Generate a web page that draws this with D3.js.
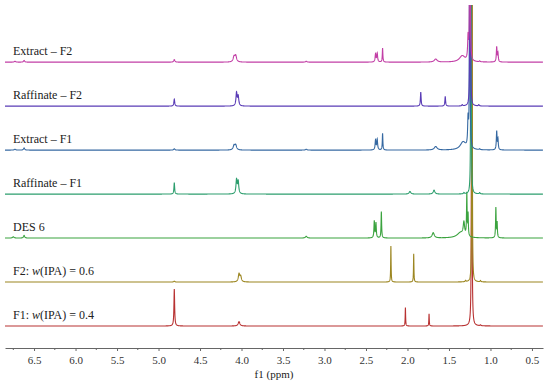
<!DOCTYPE html>
<html>
<head>
<meta charset="utf-8">
<script src="https://cdn.jsdelivr.net/npm/d3@7"></script>
<style>
  body { margin: 0; background: #fff; }
  .lbl { font-family: "Liberation Serif", "DejaVu Serif", serif; font-size: 12px; fill: #222; }
  .axis text { font-family: "Liberation Serif", "DejaVu Serif", serif; font-size: 11px; fill: #333; }
  .axis path, .axis line { stroke: #666; }
</style>
</head>
<body>
<div id="chart"></div>
<script>
// spectra, top to bottom
var names = ["Extract – F2", "Raffinate – F2", "Extract – F1", "Raffinate – F1", "DES 6", "F2: w(IPA) = 0.6", "F1: w(IPA) = 0.4"];
var colors = ["#c23fa6", "#5a3cb6", "#3669a2", "#2d9e6e", "#3ba33f", "#9c8621", "#b83232"];

// peaks: [ppm, relative intensity, half width (ppm)]  (stack spacing = 100)
var peaksExtractF2 = [[6.73, 2, 0.01], [6.62, 4, 0.008], [4.81, 6, 0.008], [4.09, 12, 0.012], [4.07, 14, 0.012],
  [3.22, 2, 0.01], [2.385, 18, 0.006], [2.365, 20, 0.006], [2.30, 32, 0.004], [1.66, 7, 0.02],
  [1.34, 14, 0.04], [1.27, 50, 0.006], [1.248, 3000, 0.0015], [1.13, 2, 0.006], [0.925, 34, 0.005], [0.91, 20, 0.005]];
var peaksRaffinateF2 = [[4.81, 16, 0.006], [4.06, 30, 0.008], [4.04, 22, 0.008], [1.84, 32, 0.005],
  [1.545, 22, 0.005], [1.34, 3, 0.006], [1.245, 3000, 0.0015], [1.14, 3, 0.006]];
var peaksExtractF1 = [[6.73, 2, 0.01], [6.62, 5, 0.008], [4.81, 3, 0.008], [4.09, 10, 0.012], [4.07, 11, 0.012],
  [3.22, 2, 0.01], [2.385, 22, 0.006], [2.365, 24, 0.006], [2.30, 38, 0.004], [1.66, 8, 0.02],
  [1.33, 18, 0.04], [1.27, 62, 0.006], [1.25, 3000, 0.0015], [1.13, 2, 0.006], [0.925, 42, 0.005], [0.91, 24, 0.005]];
var peaksRaffinateF1 = [[4.81, 26, 0.005], [4.06, 32, 0.008], [4.04, 28, 0.008], [1.97, 6, 0.012],
  [1.68, 9, 0.012], [1.32, 3, 0.006], [1.235, 3000, 0.0015], [1.13, 3, 0.006]];
var peaksDES6 = [[6.75, 3, 0.01], [6.62, 6, 0.008], [3.22, 4, 0.012], [2.40, 38, 0.005], [2.38, 34, 0.005],
  [2.315, 60, 0.004], [1.69, 12, 0.015], [1.36, 12, 0.05], [1.32, 30, 0.01], [1.285, 96, 0.004],
  [1.27, 50, 0.004], [0.935, 68, 0.004], [0.92, 34, 0.004]];
var peaksF2 = [[4.81, 2, 0.008], [4.03, 18, 0.01], [4.01, 12, 0.01], [2.20, 82, 0.003], [1.925, 64, 0.003],
  [1.30, 3, 0.006], [1.222, 3000, 0.0015], [1.12, 3, 0.006]];
var peaksF1 = [[4.81, 84, 0.005], [4.03, 10, 0.012], [2.025, 42, 0.003], [1.74, 28, 0.003],
  [1.226, 3000, 0.0018], [1.12, 2, 0.006]];

var peakSets = [peaksExtractF2, peaksRaffinateF2, peaksExtractF1, peaksRaffinateF1, peaksDES6, peaksF2, peaksF1];

var xTicks = [6.5, 6.0, 5.5, 5.0, 4.5, 4.0, 3.5, 3.0, 2.5, 2.0, 1.5, 1.0, 0.5];

var width = 550, height = 385;
var plotLeft = 5, plotRight = 543, plotTop = 5, plotBottom = 348;

var svg = d3.select("#chart").append("svg")
  .attr("width", width)
  .attr("height", height);

var x = d3.scaleLinear().domain([6.85, 0.367]).range([plotLeft, plotRight]);
var y = d3.scaleLinear().domain([-50, 730]).range([plotBottom, plotTop]);

svg.append("clipPath").attr("id", "plotclip")
  .append("rect")
  .attr("x", plotLeft).attr("y", plotTop)
  .attr("width", plotRight - plotLeft).attr("height", plotBottom - plotTop);

// sample grid across the axis
var grid = d3.range(6.85, 0.367, -0.001);

function spectrum(peaks, offset) {
  return grid.map(function(p) {
    var v = 0;
    peaks.forEach(function(pk) {
      var dx = (p - pk[0]) / pk[2];
      v += pk[1] / (1 + dx * dx);
    });
    return [p, offset + v];
  });
}

var line = d3.line()
  .x(function(d) { return x(d[0]); })
  .y(function(d) { return y(Math.min(d[1], 760)); });

var g = svg.append("g").attr("clip-path", "url(#plotclip)");

// draw bottom spectra first
for (var i = peakSets.length - 1; i >= 0; i--) {
  var offset = (peakSets.length - 1 - i) * 100;
  g.append("path")
    .datum(spectrum(peakSets[i], offset))
    .attr("fill", "none")
    .attr("stroke", colors[i])
    .attr("stroke-width", 1.1)
    .attr("d", line);
}

// labels
names.forEach(function(n, i) {
  var offset = (names.length - 1 - i) * 100;
  var t = svg.append("text")
    .attr("class", "lbl")
    .attr("x", 13)
    .attr("y", y(offset) - 7);
  if (n.indexOf("w(IPA)") >= 0) {
    var parts = n.split("w(IPA)");
    t.append("tspan").text(parts[0]);
    t.append("tspan").attr("font-style", "italic").text("w");
    t.append("tspan").text("(IPA)" + parts[1]);
  } else {
    t.text(n);
  }
});

// axis
var axis = d3.axisBottom(x)
  .tickValues(xTicks)
  .tickFormat(d3.format(".1f"))
  .tickSize(3)
  .tickSizeOuter(0);

var ax = svg.append("g")
  .attr("class", "axis")
  .attr("transform", "translate(0," + plotBottom + ")")
  .call(axis);
ax.selectAll("text").attr("dy", "0.95em");

// minor ticks
var minor = d3.range(6.75, 0.367, -0.5);
ax.selectAll(".minor")
  .data(minor)
  .enter().append("line")
  .attr("class", "minor")
  .attr("x1", function(d) { return x(d); })
  .attr("x2", function(d) { return x(d); })
  .attr("y1", 0).attr("y2", 2)
  .attr("stroke", "#666");

svg.append("text")
  .attr("class", "lbl")
  .attr("x", (plotLeft + plotRight) / 2)
  .attr("y", 378)
  .attr("text-anchor", "middle")
  .style("font-size", "11px")
  .text("f1 (ppm)");
</script>
</body>
</html>
